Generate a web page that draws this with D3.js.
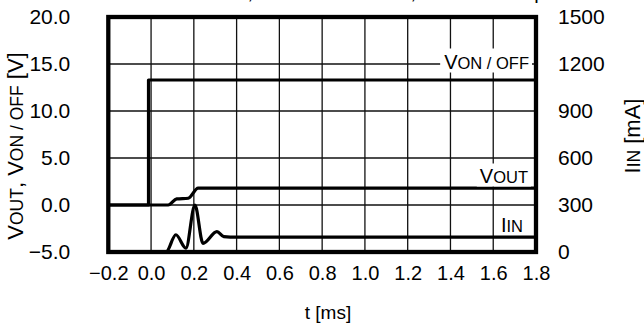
<!DOCTYPE html>
<html>
<head>
<meta charset="utf-8">
<script src="https://cdn.jsdelivr.net/npm/d3@7"></script>
<style>
  html, body { margin: 0; padding: 0; background: #fff; }
  svg { display: block; font-family: "Liberation Sans", Arial, sans-serif; }
</style>
</head>
<body>
<script>
// ---- data ----
const xTicks = [-0.2, 0.0, 0.2, 0.4, 0.6, 0.8, 1.0, 1.2, 1.4, 1.6, 1.8];
const vTicks = [-5, 0, 5, 10, 15, 20];
const iTicks = [0, 300, 600, 900, 1200, 1500];

// V_ON/OFF [V]
const vonT = [-0.2, -0.012, -0.012, 1.8];
const vonV = [0, 0, 13.3, 13.3];
// V_OUT [V]
const voutT = [-0.2, 0.08, 0.12, 0.174, 0.22, 1.8];
const voutV = [0, 0, 0.65, 0.72, 1.8, 1.8];
// I_IN [mA]
const iinT = [-0.2, 0.07, 0.116, 0.163, 0.205, 0.243, 0.308, 0.34, 0.37, 1.8];
const iinV = [0, 0, 110, 25, 300, 55, 130, 98, 95, 95];

const titleParts = ["VIN = 1.8 V,", "RL = 18 Ω,", "CL = 1 μF"];

// ---- layout ----
const W = 644, H = 332;
const L = 108.3, R = 536, T = 17, B = 252;
const FS = 21;

const svg = d3.select("body").append("svg").attr("width", W).attr("height", H);

const x = d3.scaleLinear().domain([-0.2, 1.8]).range([L, R]);
const yV = d3.scaleLinear().domain([-5, 20]).range([B, T]);
const yI = d3.scaleLinear().domain([0, 1500]).range([B, T]);

// clipped title (mostly outside the view)
const titleX = [253, 416, 470];
const titleAnchor = ["end", "end", "start"];
svg.append("g").selectAll("text").data(titleParts).join("text")
  .attr("x", (d, i) => titleX[i]).attr("y", -1)
  .attr("text-anchor", (d, i) => titleAnchor[i])
  .attr("font-size", 20).attr("fill", "#000").text(d => d);

// grid
const grid = svg.append("g").attr("stroke", "#111").attr("stroke-width", 1.3);
grid.selectAll("line.v").data(xTicks.slice(1, -1)).join("line")
  .attr("x1", d => x(d)).attr("x2", d => x(d)).attr("y1", T).attr("y2", B);
grid.selectAll("line.h").data(vTicks.slice(1, -1)).join("line")
  .attr("x1", L).attr("x2", R).attr("y1", d => yV(d)).attr("y2", d => yV(d));

// series
const lineG = svg.append("g").attr("fill", "none").attr("stroke", "#000")
  .attr("stroke-linejoin", "round").attr("stroke-linecap", "butt");

const von = vonT.map((t, i) => [t, vonV[i]]);
const vout = voutT.map((t, i) => [t, voutV[i]]);
const iin = iinT.map((t, i) => [t, iinV[i]]);

lineG.append("path").attr("stroke-width", 3.2)
  .attr("d", d3.line().x(d => x(d[0])).y(d => yV(d[1])).curve(d3.curveLinear)(von));
lineG.append("path").attr("stroke-width", 3.2)
  .attr("d", d3.line().x(d => x(d[0])).y(d => yV(d[1])).curve(d3.curveMonotoneX)(vout));
lineG.append("path").attr("stroke-width", 3.2)
  .attr("d", d3.line().x(d => x(d[0])).y(d => yI(d[1])).curve(d3.curveMonotoneX)(iin));

// in-plot labels with white backgrounds
function subLabel(g, big, small, xRight, baseline, bigSize, smallSize, pad) {
  const t = g.append("text").attr("x", xRight).attr("y", baseline)
    .attr("text-anchor", "end").attr("fill", "#000");
  t.append("tspan").attr("font-size", bigSize).text(big);
  t.append("tspan").attr("font-size", smallSize).text(small);
  const bb = t.node().getBBox();
  g.insert("rect", "text").attr("x", bb.x - pad[0]).attr("y", bb.y - pad[1])
    .attr("width", bb.width + pad[0] + pad[2]).attr("height", bb.height + pad[1] + pad[3])
    .attr("fill", "#fff");
  return t;
}
const lab = svg.append("g");
subLabel(lab.append("g"), "V", "ON / OFF", 529, 68.5, 20, 16.5, [4, 2, 3, 0]);
subLabel(lab.append("g"), "V", "OUT", 528, 182.5, 20, 16.5, [3, 1, 3, 0]);
subLabel(lab.append("g"), "I", "IN", 523, 231.5, 20, 16.5, [2, 0, 2, -2]);

// frame
svg.append("rect").attr("x", L).attr("y", T).attr("width", R - L).attr("height", B - T)
  .attr("fill", "none").attr("stroke", "#000").attr("stroke-width", 4.3);

// axes
const fmt = d3.format(".1f");
const axL = svg.append("g").attr("transform", `translate(${L},0)`)
  .call(d3.axisLeft(yV).tickValues(vTicks).tickSize(0).tickPadding(38).tickFormat(fmt));
const axB = svg.append("g").attr("transform", `translate(0,${B})`)
  .call(d3.axisBottom(x).tickValues(xTicks).tickSize(0).tickPadding(14).tickFormat(fmt));
const axR = svg.append("g").attr("transform", `translate(${R},0)`)
  .call(d3.axisRight(yI).tickValues(iTicks).tickSize(0).tickPadding(22).tickFormat(d3.format("d")));
[axL, axB, axR].forEach(a => {
  a.select(".domain").remove();
  a.selectAll("text").attr("font-size", FS).attr("font-family", "Liberation Sans, Arial, sans-serif").attr("fill", "#000");
});
axB.selectAll("text").attr("font-size", 20);

// axis titles
svg.append("text").attr("x", 328).attr("y", 319).attr("text-anchor", "middle")
  .attr("font-size", 19).attr("fill", "#000").text("t [ms]");

const lt = svg.append("text").attr("transform", "translate(23,146) rotate(-90)")
  .attr("text-anchor", "middle").attr("fill", "#000");
lt.append("tspan").attr("font-size", 22).text("V");
lt.append("tspan").attr("font-size", 17.5).text("OUT");
lt.append("tspan").attr("font-size", 22).text(", V");
lt.append("tspan").attr("font-size", 17.5).text("ON / OFF");
lt.append("tspan").attr("font-size", 22).text(" [V]");

const rt = svg.append("text").attr("transform", "translate(640,136) rotate(-90)")
  .attr("text-anchor", "middle").attr("fill", "#000");
rt.append("tspan").attr("font-size", 22).text("I");
rt.append("tspan").attr("font-size", 17.5).text("IN");
rt.append("tspan").attr("font-size", 22).text(" [mA]");
</script>
</body>
</html>
